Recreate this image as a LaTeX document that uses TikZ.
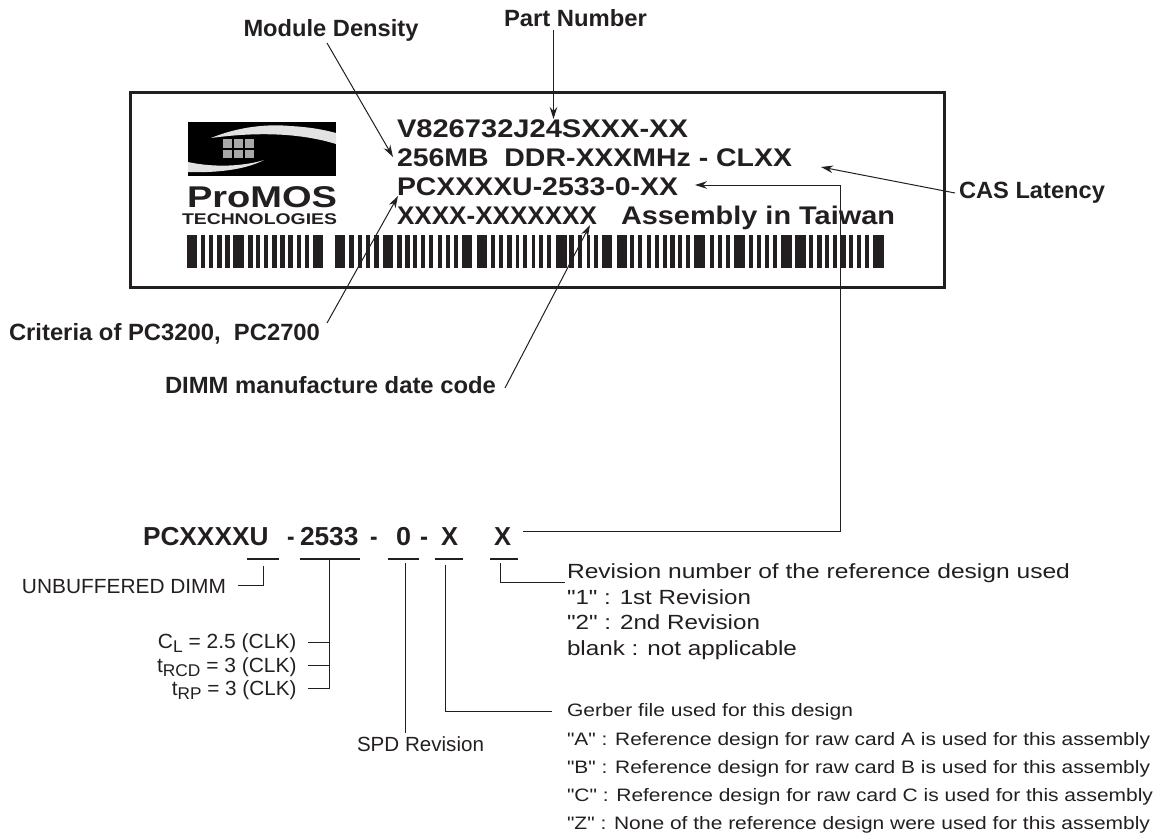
\documentclass[tikz,border=0pt]{standalone}
\usepackage{fontspec}
\usepackage{graphicx}
\setmainfont{Liberation Sans}[Ligatures=TeXOff]
\usetikzlibrary{arrows.meta}
\definecolor{ink}{HTML}{231F20}
\definecolor{swoosh}{HTML}{E2E2E2}
\definecolor{pix}{HTML}{A8A8A8}
\newcommand{\fitw}[2]{\resizebox{#1pt}{\height}{#2}}
\newcommand{\lowsub}[1]{\raisebox{-4.5pt}{\fontsize{17}{17}\selectfont #1}}
\tikzset{
  txt/.style={anchor=base west,inner sep=0pt,outer sep=0pt,text=ink},
  txtr/.style={anchor=base east,inner sep=0pt,outer sep=0pt,text=ink},
  label/.style={txt,font=\fontsize{23.5}{23.5}\selectfont\bfseries},
  sticker/.style={txt,font=\fontsize{25.5}{25.5}\selectfont\bfseries},
  code/.style={txt,font=\fontsize{26}{26}\selectfont\bfseries},
  note/.style={txt,font=\fontsize{20.5}{20.5}\selectfont},
  small/.style={txt,font=\fontsize{18}{18}\selectfont},
  timing/.style={txtr,font=\fontsize{20.5}{20.5}\selectfont},
  wire/.style={draw=ink,line width=1pt},
  pointer/.style={wire,-{Stealth[length=12pt,width=7.5pt]}},
  dashbar/.style={draw=ink,line width=2.6pt},
  bar/.style={fill=ink,draw=none},
}
\begin{document}
\begin{tikzpicture}[x=1pt,y=-1pt]
\useasboundingbox (0,0) rectangle (1159,838);
% label
\draw[ink,line width=3pt] (130,92) rectangle (944,287);
% logo
\fill[black] (188,122) rectangle (336,176);
\fill[swoosh] (211,138) .. controls (240,126) and (270,124) .. (290,126) .. controls (310,127) and (325,130) .. (336,133) -- (336,144) .. controls (310,136) and (270,130) .. (211,138) -- cycle;
\fill[swoosh] (188,162) .. controls (215,168) and (245,166) .. (264,160) .. controls (245,170) and (215,173) .. (188,172) -- cycle;
\foreach \xa/\xb in {223/232,234/243,245/254}{
  \fill[pix] (\xa,139) rectangle (\xb,148);
  \fill[pix] (\xa,150) rectangle (\xb,158);
}
\node[txt,font=\fontsize{30}{30}\selectfont\bfseries] (promos) at (187,207) {\fitw{150}{ProMOS}};
\node[txt,font=\fontsize{15.5}{15.5}\selectfont\bfseries] (tech) at (182,224) {\fitw{155}{TECHNOLOGIES}};
% barcode
\foreach \a/\b in {187/197,201/205,209/213,217/222,225/230,233/244,248/253,256/260,264/268,272/277,280/285,288/293,297/301,305/309,313/323,
335/345,349/354,358/362,366/370,374/379,383/393,397/402,405/410,413/417,421/425,429/433,438/442,446/450,454/458,462/472,477/487,491/495,499/503,507/512,516/519,523/527,532/535,539/543,547/551,556/567,569/574,578/582,587/590,594/598,602/612,617/627,630/634,638/642,647/651,
655/659,663/667,670/675,678/682,686/690,694/705,710/714,718/722,726/730,734/745,749/753,757/761,765/769,773/777,781/792,795/806,809/813,817/822,825/829,833/837,841/846,849/853,857/861,865/869,873/884}{
  \fill[bar] (\a,235) rectangle (\b,268);
}
% sticker text
\node[sticker] (l1) at (397,137) {\fitw{291}{V826732J24SXXX-XX}};
\node[sticker] (l2) at (397,166) {\fitw{395}{256MB\ \ DDR-XXXMHz - CLXX}};
\node[sticker] (l3) at (397,195) {\fitw{281}{PCXXXXU-2533-0-XX}};
\node[sticker] (l4a) at (397,224) {\fitw{200}{XXXX-XXXXXXX}};
\node[sticker] (l4b) at (621,224) {\fitw{274}{Assembly in Taiwan}};
% callout labels
\node[label] (part) at (504,26.5) {\fitw{143}{Part Number}};
\node[label] (density) at (243.5,36.5) {\fitw{175}{Module Density}};
\node[label] (cas) at (959,198) {\fitw{146}{CAS Latency}};
\node[label] (criteria) at (9,340.5) {\fitw{311}{Criteria of PC3200,\ \ PC2700}};
\node[label] (date) at (165,393) {\fitw{331}{DIMM manufacture date code}};
\coordinate (partS) at (553.5,30);
\coordinate (partT) at (553.5,119);
\coordinate (denS) at (327,43);
\coordinate (denT) at (393,157);
\coordinate (casS) at (955,193);
\coordinate (casT) at (821,167);
\coordinate (crS) at (327,323);
\coordinate (crT) at (398,196);
\coordinate (daS) at (505,388);
\coordinate (daT) at (590,225);
\coordinate (revT) at (695,185);
\coordinate (revK) at (840,185);
\coordinate (revB) at (840,531);
\coordinate (revS) at (523,531);
\draw[pointer] (partS) -- (partT);
\draw[pointer] (denS) -- (denT);
\draw[pointer] (casS) -- (casT);
\draw[pointer] (crS) -- (crT);
\draw[pointer] (daS) -- (daT);
\draw[pointer] (revS) -- (revB) -- (revK) -- (revT);
% code line
\node[code] (c1) at (143,545) {\fitw{125.5}{PCXXXXU}};
\node[code] (c2a) at (287,545) {\fitw{7.5}{-}};
\node[code] (c2) at (300,545) {\fitw{58.5}{2533}};
\node[code] (c3) at (370,545) {\fitw{7.5}{-}};
\node[code] (c4) at (396,545) {\fitw{15}{0}};
\node[code] (c5) at (420,545) {\fitw{8}{-}};
\node[code] (c6) at (441,545) {\fitw{17}{X}};
\node[code] (c7) at (494,545) {\fitw{17}{X}};
\foreach \a/\b in {247/279,300/360,388/419,435/463,490/518}{
  \draw[dashbar] (\a,559) -- (\b,559);
}
% unbuffered
\node[note] (unb) at (22,593) {\fitw{204}{UNBUFFERED DIMM}};
\coordinate (u1) at (263,566);
\coordinate (u2) at (263,585);
\coordinate (u3) at (238,585);
\draw[wire] (u1) -- (u2) -- (u3);
% timing
\node[timing] (cl) at (296.5,648) {\fitw{138.5}{C\lowsub{L} = 2.5 (CLK)}};
\node[timing] (rcd) at (296.5,672) {\fitw{139.5}{t\lowsub{RCD} = 3 (CLK)}};
\node[timing] (rp) at (296.5,695) {\fitw{124.5}{t\lowsub{RP} = 3 (CLK)}};
\coordinate (t0) at (329,559);
\coordinate (t1) at (329,642);
\coordinate (t2) at (329,665);
\coordinate (t3) at (329,688);
\coordinate (t1e) at (308,642);
\coordinate (t2e) at (308,665);
\coordinate (t3e) at (308,688);
\draw[wire] (t0) -- (t3) -- (t3e);
\draw[wire] (t1) -- (t1e);
\draw[wire] (t2) -- (t2e);
% SPD
\node[note] (spd) at (357,751) {\fitw{127}{SPD Revision}};
\coordinate (s1) at (405.5,563);
\coordinate (s2) at (405.5,733);
\draw[wire] (s1) -- (s2);
% Gerber
\coordinate (g1) at (445,565);
\coordinate (g2) at (445,711);
\coordinate (g3) at (552,711);
\draw[wire] (g1) -- (g2) -- (g3);
% revision
\coordinate (r1) at (500,563);
\coordinate (r2) at (500,582);
\coordinate (r3) at (565,582);
\draw[wire] (r1) -- (r2) -- (r3);
\node[note] (rv0) at (567,578) {\fitw{503}{Revision number of the reference design used}};
\node[note] (rv1) at (567,604) {\fitw{184}{"1" : 1st Revision}};
\node[note] (rv2) at (567,629) {\fitw{193}{"2" : 2nd Revision}};
\node[note] (rv3) at (567,655) {\fitw{230}{blank : not applicable}};
\node[small] (gb0) at (567,716.5) {\fitw{286}{Gerber file used for this design}};
\node[small] (gb1) at (567,745) {\fitw{583}{"A" : Reference design for raw card A is used for this assembly}};
\node[small] (gb2) at (567,773) {\fitw{583}{"B" : Reference design for raw card B is used for this assembly}};
\node[small] (gb3) at (567,801.5) {\fitw{586}{"C" : Reference design for raw card C is used for this assembly}};
\node[small] (gb4) at (567,829.5) {\fitw{583}{"Z" : None of the reference design were used for this assembly}};
\end{tikzpicture}
\end{document}
